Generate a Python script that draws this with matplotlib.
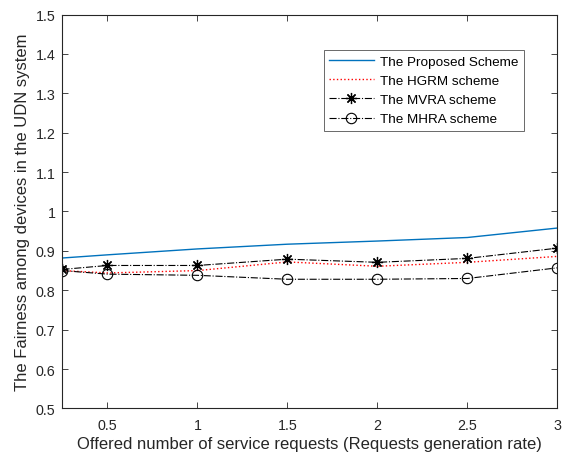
import matplotlib
matplotlib.use("Agg")
import matplotlib.pyplot as plt

# offered requests (generation rate)
rates = [0.25, 0.5, 1.0, 1.5, 2.0, 2.5, 3.0]

proposed = [0.882, 0.890, 0.905, 0.917, 0.925, 0.934, 0.958]
hgrm = [0.850, 0.844, 0.850, 0.872, 0.861, 0.871, 0.886]
mvra = [0.853, 0.863, 0.863, 0.879, 0.871, 0.881, 0.907]
mhra = [0.850, 0.841, 0.838, 0.828, 0.828, 0.830, 0.857]

x_ticks = [0.5, 1, 1.5, 2, 2.5, 3]
x_tick_labels = ["0.5", "1", "1.5", "2", "2.5", "3"]
y_ticks = [0.5, 0.6, 0.7, 0.8, 0.9, 1.0, 1.1, 1.2, 1.3, 1.4, 1.5]
y_tick_labels = ["0.5", "0.6", "0.7", "0.8", "0.9", "1", "1.1", "1.2", "1.3", "1.4", "1.5"]

plt.rcParams["font.family"] = ["Liberation Sans", "DejaVu Sans"]

fig = plt.figure(figsize=(5.63, 4.56), dpi=100)
ax = fig.add_axes([0.111, 0.102, 0.879, 0.864])

ax.plot(rates, proposed, color="#0072BD", lw=1.0, label="The Proposed Scheme")
ax.plot(rates, hgrm, color="#FF0000", lw=1.0, ls=":", label="The HGRM scheme")
ax.plot(rates, mvra, color="black", lw=0.8, ls="-.", marker=(8, 2, 0), ms=8,
        markeredgewidth=0.9, label="The MVRA scheme")
ax.plot(rates, mhra, color="black", lw=0.8, ls="-.", marker="o", ms=7.5,
        markerfacecolor="none", markeredgewidth=0.8, label="The MHRA scheme")

ax.set_xlim(0.25, 3)
ax.set_ylim(0.5, 1.5)
ax.set_xticks(x_ticks)
ax.set_xticklabels(x_tick_labels)
ax.set_yticks(y_ticks)
ax.set_yticklabels(y_tick_labels)
ax.tick_params(direction="in", top=True, right=True, labelsize=10.3,
               length=4, width=0.6, colors="#262626")
ax.tick_params(axis="x", pad=6.5)
ax.tick_params(axis="y", pad=5)
for s in ax.spines.values():
    s.set_linewidth(0.8)
    s.set_color("#262626")

ax.set_xlabel("Offered number of service requests (Requests generation rate)",
              fontsize=12, color="#262626", labelpad=3)
ax.set_ylabel("The Fairness among devices in the UDN system",
              fontsize=12, color="#262626", labelpad=4)

leg = ax.legend(loc="upper right", bbox_to_anchor=(0.933, 0.91), fontsize=9.7,
                frameon=True, fancybox=False, edgecolor="#262626",
                handlelength=3.3, borderpad=0.4, labelspacing=0.5,
                handletextpad=0.5, borderaxespad=0)
leg.get_frame().set_linewidth(0.6)

fig.savefig("out.png", dpi=100)
